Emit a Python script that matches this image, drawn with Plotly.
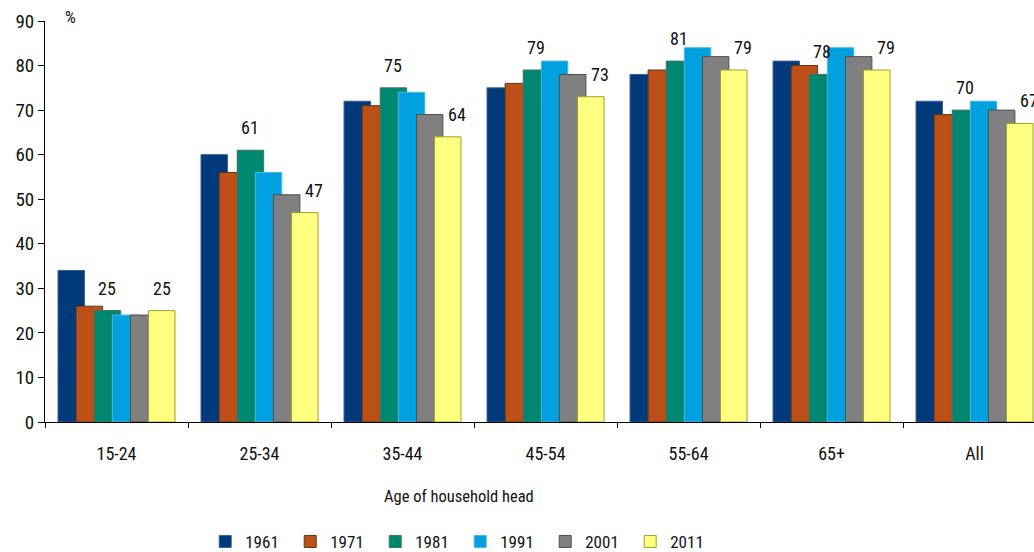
import plotly.graph_objects as go

categories = ["15-24", "25-34", "35-44", "45-54", "55-64", "65+", "All"]
years = ["1961", "1971", "1981", "1991", "2001", "2011"]

v1961 = [34, 60, 72, 75, 78, 81, 72]
v1971 = [26, 56, 71, 76, 79, 80, 69]
v1981 = [25, 61, 75, 79, 81, 78, 70]
v1991 = [24, 56, 74, 81, 84, 84, 72]
v2001 = [24, 51, 69, 78, 82, 82, 70]
v2011 = [25, 47, 64, 73, 79, 79, 67]

series = [v1961, v1971, v1981, v1991, v2001, v2011]
labelled_years = ["1981", "2011"]

y_ticks = [0, 10, 20, 30, 40, 50, 60, 70, 80, 90]

fill_colors = ["#003A7A", "#BD4F19", "#00876F", "#00A1DE", "#808080", "#FFFF80"]
line_colors = ["#3A5F95", "#5A3A10", "#3F7466", "#4FB5E5", "#4F4F4F", "#A0A028"]

FONT = "Liberation Sans Narrow, Roboto Condensed, DejaVu Sans Condensed, Noto Sans"
step = 0.1266
width = 0.185

fig = go.Figure()
annotations = []
for i, (yr, vals) in enumerate(zip(years, series)):
    off = (i - 2.5) * step - width / 2
    fig.add_trace(go.Bar(
        name=yr, x=categories, y=vals,
        width=width, offset=off,
        marker=dict(color=fill_colors[i], line=dict(color=line_colors[i], width=1)),
        hoverinfo="x+y+name",
    ))
    if yr in labelled_years:
        for j, v in enumerate(vals):
            xs = 9 if (yr == "2011" and j > 0) else 0
            annotations.append(dict(
                x=j + (i - 2.5) * step, y=v, xref="x", yref="y",
                text=str(v), showarrow=False, yanchor="bottom",
                yshift=10, xshift=xs, font=dict(family=FONT, size=18, color="#111111"),
            ))

annotations.append(dict(x=0, y=1.0, xref="paper", yref="paper", xshift=25, yshift=4,
                        text="%", showarrow=False, xanchor="center", yanchor="middle",
                        font=dict(family=FONT, size=17, color="#111111")))
annotations.append(dict(x=0.4186, y=-0.187, xref="paper", yref="paper",
                        text="Age of household head", showarrow=False,
                        xanchor="center", yanchor="middle",
                        font=dict(family=FONT, size=16.5, color="#111111")))

fig.update_layout(
    width=1034, height=552,
    margin=dict(l=45, r=0, t=21, b=130, autoexpand=False),
    barmode="overlay",
    plot_bgcolor="white", paper_bgcolor="white",
    font=dict(family=FONT, size=17, color="#111111"),
    showlegend=True,
    legend=dict(orientation="h", x=0.162, xanchor="left", y=-0.299, yanchor="middle",
                entrywidth=40, font=dict(family=FONT, size=17, color="#111111"),
                traceorder="normal"),
    annotations=annotations,
)
fig.update_xaxes(
    range=[-0.5, 6.416], showline=True, linecolor="black", linewidth=1,
    ticks="outside", tickson="boundaries", ticklen=5, tickcolor="black",
    showgrid=False, ticklabelstandoff=15,
    tickfont=dict(family=FONT, size=18, color="#111111"),
)
fig.update_yaxes(
    range=[0, 90], tickvals=y_ticks, showline=True, linecolor="black", linewidth=1,
    ticks="outside", ticklen=6, tickcolor="black", showgrid=False, zeroline=False,
    tickfont=dict(family=FONT, size=19, color="#111111"),
)
fig.write_html("out.html", post_script="document.body.style.margin='0';",
               config={"displayModeBar": False})
